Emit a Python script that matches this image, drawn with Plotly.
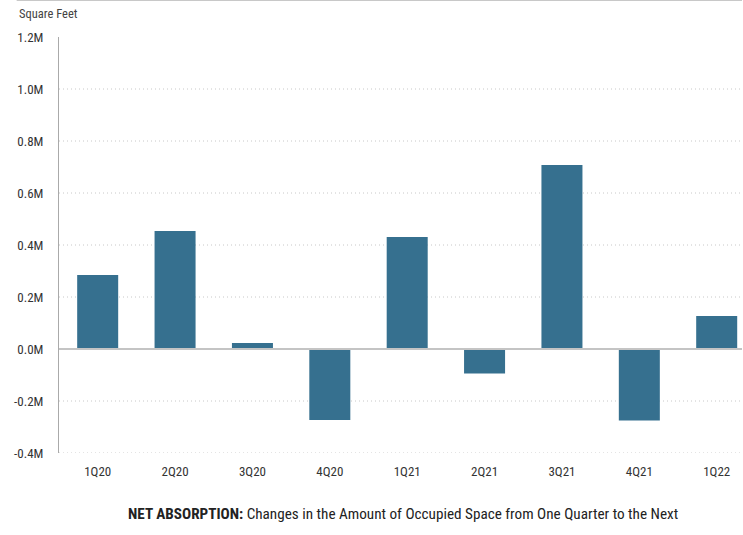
import plotly.graph_objects as go

quarters = ["1Q20", "2Q20", "3Q20", "4Q20", "1Q21", "2Q21", "3Q21", "4Q21", "1Q22"]
net_absorption = [285000, 454000, 23000, -273000, 431000, -94000, 708000, -275000, 127000]
tick_vals = [-400000, -200000, 0, 200000, 400000, 600000, 800000, 1000000, 1200000]
tick_text = ["-0.4M", "-0.2M", "0.0M", "0.2M", "0.4M", "0.6M", "0.8M", "1.0M", "1.2M"]

FONT = "Liberation Sans Narrow, Arial Narrow, Roboto Condensed, sans-serif"

fig = go.Figure()
fig.add_trace(go.Bar(
    x=list(range(len(quarters))), y=net_absorption,
    marker=dict(color="#36708F", line=dict(width=0)),
    width=0.53,
))

# dotted gridlines (except 0 and top)
shapes = []
for v in tick_vals:
    if v in (0, 1200000):
        continue
    shapes.append(dict(type="line", xref="paper", yref="y", x0=0, x1=1, y0=v, y1=v,
                       line=dict(color="#C8C8C8", width=1, dash="1px,3px"), layer="below"))
shapes.append(dict(type="line", xref="paper", yref="y", x0=0, x1=1, y0=0, y1=0,
                   line=dict(color="#C4C4C4", width=2), layer="above"))
shapes.append(dict(type="line", xref="paper", yref="paper", x0=-0.062, x1=1, y0=1.0889, y1=1.0889,
                   line=dict(color="#C8C8C8", width=2)))

fig.update_layout(
    width=743, height=535,
    margin=dict(l=59, r=1, t=37, b=82),
    paper_bgcolor="white", plot_bgcolor="white",
    showlegend=False,
    font=dict(family=FONT, size=13, color="#333333"),
    shapes=shapes,
    xaxis=dict(range=[-0.5, 8.327], tickvals=list(range(len(quarters))), ticktext=quarters,
               showgrid=False, zeroline=False, showline=False, ticks="",
               tickfont=dict(size=13, color="#333333", family=FONT), ticklabelstandoff=9),
    yaxis=dict(range=[-400000, 1200000], tickvals=tick_vals, ticktext=tick_text,
               showgrid=False, zeroline=False, showline=True, linecolor="#AAAAAA", linewidth=1,
               ticks="", tickfont=dict(size=13, color="#333333", family=FONT), ticklabelstandoff=12),
    annotations=[
        dict(text="Square Feet", xref="paper", yref="paper", x=-0.061, y=1.034, xanchor="left", yanchor="bottom",
             showarrow=False, font=dict(size=12.5, color="#444444", family=FONT)),
        dict(text="<b>NET ABSORPTION:</b> Changes in the Amount of Occupied Space from One Quarter to the Next",
             xref="paper", yref="paper", x=0.503, y=-0.147, xanchor="center", yanchor="middle",
             showarrow=False, font=dict(size=15.2, color="#222222", family=FONT)),
    ],
)

fig.write_html("out.html")
